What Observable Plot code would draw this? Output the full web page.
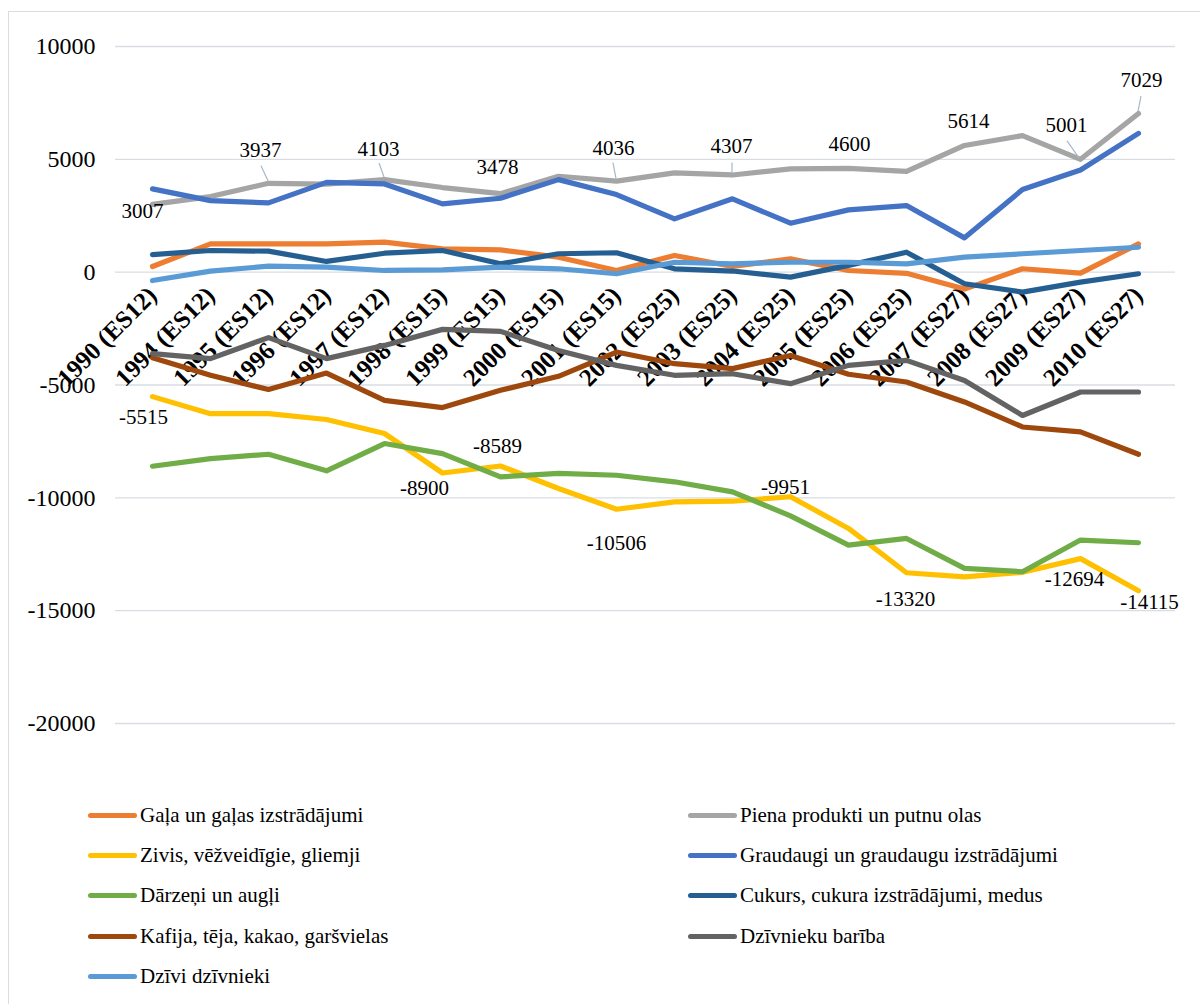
<!DOCTYPE html>
<html>
<head>
<meta charset="utf-8">
<script src="https://cdn.jsdelivr.net/npm/d3@7"></script>
<script src="https://cdn.jsdelivr.net/npm/@observablehq/plot@0.6"></script>
<style>
  html, body { margin: 0; padding: 0; background: #fff; }
  #wrap { position: relative; width: 1200px; height: 1004px; overflow: hidden; font-family: "Liberation Serif", "Times New Roman", serif; }
  #frame { position: absolute; left: 8px; top: 11px; width: 1220px; height: 1020px; border: 1.5px solid #d9dde3; box-sizing: border-box; }
  #chart { position: absolute; left: 0; top: 0; }
  #legend { position: absolute; left: 88px; top: 795px; display: grid; grid-template-columns: 600px 600px; grid-auto-rows: 40.3px; }
  .item { display: flex; align-items: center; font-family: "Liberation Serif", serif; font-size: 21px; color: #000; white-space: nowrap; }
  .sw { width: 49px; height: 5px; border-radius: 3px; margin-right: 3px; }
</style>
</head>
<body>
<div id="wrap">
  <div id="frame"></div>
  <div id="chart"></div>
  <div id="legend"></div>
</div>
<script>
// ---- Data ----
const categories = ["1990 (ES12)", "1994 (ES12)", "1995 (ES12)", "1996 (ES12)", "1997 (ES12)", "1998 (ES15)",
  "1999 (ES15)", "2000 (ES15)", "2001 (ES15)", "2002 (ES25)", "2003 (ES25)", "2004 (ES25)", "2005 (ES25)",
  "2006 (ES25)", "2007 (ES27)", "2008 (ES27)", "2009 (ES27)", "2010 (ES27)"];

const seriesNames = [
  "Gaļa un gaļas izstrādājumi",
  "Piena produkti un putnu olas",
  "Zivis, vēžveidīgie, gliemji",
  "Graudaugi un graudaugu izstrādājumi",
  "Dārzeņi un augļi",
  "Cukurs, cukura izstrādājumi, medus",
  "Kafija, tēja, kakao, garšvielas",
  "Dzīvnieku barība",
  "Dzīvi dzīvnieki"
];
const seriesColors = ["#ED7D31", "#A5A5A5", "#FFC000", "#4472C4", "#70AD47", "#255E91", "#9E480E", "#636363", "#5B9BD5"];

const gala      = [250, 1255, 1255, 1255, 1330, 1035, 990, 665, 75, 740, 250, 590, 75, -50, -750, 150, -45, 1255];
const piena     = [3007, 3350, 3937, 3900, 4103, 3750, 3478, 4250, 4036, 4400, 4307, 4575, 4600, 4470, 5614, 6050, 5001, 7029];
const zivis     = [-5515, -6270, -6270, -6530, -7150, -8900, -8589, -9585, -10506, -10180, -10150, -9951, -11355, -13320, -13500, -13300, -12694, -14115];
const graudaugi = [3690, 3170, 3070, 3980, 3910, 3025, 3275, 4100, 3440, 2360, 3250, 2170, 2760, 2950, 1520, 3660, 4530, 6150];
const darzeni   = [-8600, -8260, -8070, -8805, -7595, -8040, -9070, -8920, -9000, -9290, -9735, -10800, -12095, -11800, -13125, -13275, -11870, -11990];
const cukurs    = [780, 960, 930, 475, 840, 960, 370, 815, 860, 150, 50, -220, 300, 885, -515, -885, -440, -70];
const kafija    = [-3790, -4570, -5200, -4470, -5680, -6000, -5235, -4615, -3540, -4055, -4275, -3690, -4525, -4865, -5750, -6860, -7080, -8070];
const bariba    = [-3610, -3830, -2900, -3830, -3245, -2535, -2625, -3470, -4130, -4570, -4500, -4940, -4130, -3910, -4800, -6350, -5310, -5310];
const dzivi     = [-370, 45, 265, 220, 75, 105, 220, 150, -70, 440, 370, 440, 440, 370, 665, 815, 960, 1105];

const seriesValues = [gala, piena, zivis, graudaugi, darzeni, cukurs, kafija, bariba, dzivi];
const yTicks = [10000, 5000, 0, -5000, -10000, -15000, -20000];

// Which points carry data labels (category index)
const labelledPiena = [0, 2, 4, 6, 8, 10, 12, 14, 16, 17];
const labelledZivis = [0, 5, 6, 8, 11, 13, 16, 17];

// ---- Layout of labels (pixel offsets, styling only) ----
const pienaLabelOffsets = [[-10, 7], [-8, -33], [-6, -30], [-3, -26], [-3, -33], [-1, -29], [1, -24], [4, -24], [-14, -34], [3, -33]];
const zivisLabelOffsets = [[-9, 21], [-18, 15], [-3, -20], [0, 34], [-5, -9], [-1, 27], [-6, 21], [11, 12]];
// leader lines for some Piena labels: [category index, dx1, dy1, dx2, dy2]
const leaderLayout = [[2, 0, -2, -7, -17], [4, 0, -2, -5, -16], [8, 0, -2, -3, -18], [10, 0, -2, 0, -12], [16, -1, -1, -13, -18], [17, 0, -2, 3, -17]];

const FONT = "'Liberation Serif', 'Times New Roman', serif";

// ---- Build tables ----
const rows = [];
seriesNames.forEach((s, si) => seriesValues[si].forEach((v, ci) => rows.push({series: s, cat: categories[ci], value: v})));

const labelMarks = [];
labelledPiena.forEach((ci, k) => {
  labelMarks.push(Plot.text([{cat: categories[ci], value: piena[ci]}], {
    x: "cat", y: "value", text: d => String(d.value), dx: pienaLabelOffsets[k][0], dy: pienaLabelOffsets[k][1],
    fontSize: 21, fontFamily: FONT, fill: "#000", textAnchor: "middle", lineAnchor: "middle"
  }));
});
labelledZivis.forEach((ci, k) => {
  labelMarks.push(Plot.text([{cat: categories[ci], value: zivis[ci]}], {
    x: "cat", y: "value", text: d => String(d.value), dx: zivisLabelOffsets[k][0], dy: zivisLabelOffsets[k][1],
    fontSize: 21, fontFamily: FONT, fill: "#000", textAnchor: "middle", lineAnchor: "middle"
  }));
});

function leaders(index, scales) {
  const g = d3.create("svg:g").attr("stroke", "#a9b7c9").attr("stroke-width", 1.2);
  for (const [ci, a, b, c, d] of leaderLayout) {
    const x0 = scales.x(categories[ci]), y0 = scales.y(piena[ci]);
    g.append("line").attr("x1", x0 + a).attr("y1", y0 + b).attr("x2", x0 + c).attr("y2", y0 + d);
  }
  return g.node();
}

const chart = Plot.plot({
  width: 1200,
  height: 760,
  marginLeft: 115,
  marginRight: 25,
  marginTop: 46,
  marginBottom: 37,
  style: {fontFamily: FONT, background: "transparent", color: "#000"},
  x: {type: "point", domain: categories, padding: 0.5, axis: null},
  y: {domain: [-20000, 10000], axis: null},
  color: {domain: seriesNames, range: seriesColors},
  marks: [
    Plot.ruleY(yTicks, {stroke: "#d9dde3", strokeWidth: 1.4}),
    Plot.axisY(yTicks, {tickSize: 0, tickPadding: 20, fontSize: 24, fontFamily: FONT, label: null, tickFormat: d => String(d), fill: "#000"}),
    Plot.text(categories, {x: d => d, y: () => 0, text: d => d, rotate: -45, textAnchor: "end", lineAnchor: "middle",
      fontWeight: "bold", fontSize: 25, fontFamily: FONT, dx: 0, dy: 19, fill: "#000"}),
    Plot.lineY(rows, {x: "cat", y: "value", z: "series", stroke: "series", strokeWidth: 5.2,
      strokeLinecap: "round", strokeLinejoin: "round"}),
    leaders,
    ...labelMarks
  ]
});
document.getElementById("chart").appendChild(chart);

// ---- Legend (Excel row-wise order) ----
const legend = document.getElementById("legend");
seriesNames.forEach((s, i) => {
  const item = document.createElement("div");
  item.className = "item";
  const sw = document.createElement("span");
  sw.className = "sw";
  sw.style.background = seriesColors[i];
  item.appendChild(sw);
  item.appendChild(document.createTextNode(s));
  legend.appendChild(item);
});
</script>
</body>
</html>
